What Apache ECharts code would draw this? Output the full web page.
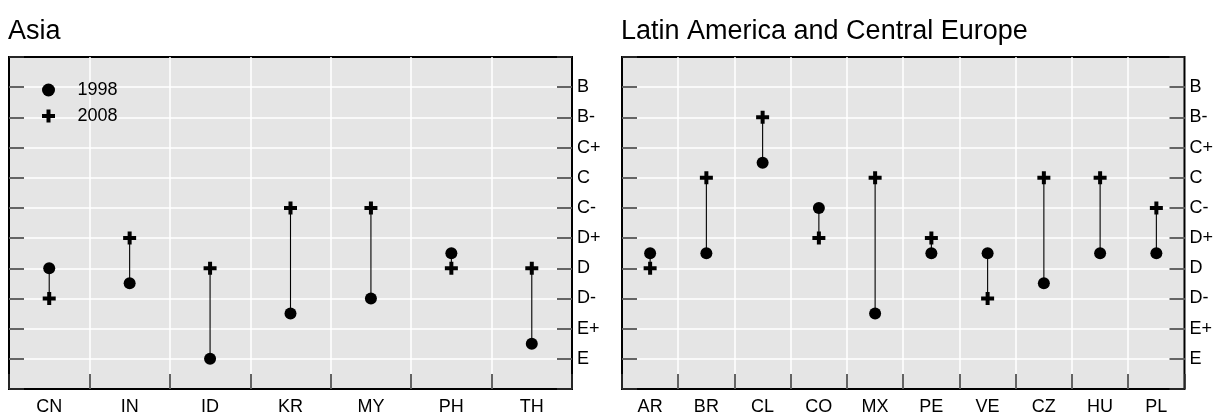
<!DOCTYPE html>
<html>
<head>
<meta charset="utf-8">
<script src="https://cdn.jsdelivr.net/npm/echarts@6/dist/echarts.min.js"></script>
<style>html,body{margin:0;padding:0;background:#fff}#c{width:1216px;height:416px}</style>
</head>
<body>
<div id="c"></div>
<script>
const gradeLabels = ['E','E+','D-','D','D+','C-','C','C+','B-','B'];
const asiaCategories = ['CN','IN','ID','KR','MY','PH','TH'];
const asia1998 = [3, 2.5, 0, 1.5, 2, 3.5, 0.5];
const asia2008 = [2, 4, 3, 5, 5, 3, 3];
const latamCategories = ['AR','BR','CL','CO','MX','PE','VE','CZ','HU','PL'];
const latam1998 = [3.5, 3.5, 6.5, 5, 1.5, 3.5, 3.5, 2.5, 3.5, 3.5];
const latam2008 = [3, 6, 8, 4, 6, 4, 2, 6, 6, 5];
const panelTitles = ['Asia', 'Latin America and Central Europe'];
const seriesNames = ['1998', '2008'];

const FONT = 'Liberation Sans, Arial, Helvetica, sans-serif';
const plusPath = 'path://M4.5,0H8.5V4.5H13V8.5H8.5V13H4.5V8.5H0V4.5H4.5Z';

const chart = echarts.init(document.getElementById('c'), null, {renderer: 'canvas'});

const panels = [
  {cats: asiaCategories, a: asia1998, b: asia2008, left: 9},
  {cats: latamCategories, a: latam1998, b: latam2008, left: 622}
];

const grids = [], xAxes = [], yAxes = [], series = [];
panels.forEach((p, gi) => {
  grids.push({left: p.left, top: 57, width: 563, height: 333, show: true,
    backgroundColor: '#e5e5e5', borderColor: '#000', borderWidth: 2, containLabel: false});
  xAxes.push({gridIndex: gi, type: 'category', data: p.cats, boundaryGap: true, position: 'bottom',
    axisLine: {show: false, onZero: false},
    axisTick: {show: true, inside: true, length: 15, lineStyle: {color: '#333', width: 1.5}},
    axisLabel: {fontSize: 18, color: '#000', fontFamily: FONT, margin: 9},
    splitLine: {show: true, showMinLine: false, showMaxLine: false, lineStyle: {color: '#fff', width: 1.5}}
  });
  yAxes.push({gridIndex: gi, type: 'value', position: 'left', min: -1, max: 10, interval: 1,
    axisLine: {show: false, onZero: false},
    axisTick: {show: true, inside: true, length: 15, lineStyle: {color: '#333', width: 1.5}},
    axisLabel: {show: false},
    splitLine: {show: true, showMinLine: false, showMaxLine: false, lineStyle: {color: '#fff', width: 1.5}}
  });
  yAxes.push({gridIndex: gi, type: 'value', position: 'right', min: -1, max: 10, interval: 1,
    axisLine: {show: false, onZero: false},
    axisTick: {show: true, inside: true, length: 15, lineStyle: {color: '#333', width: 1.5}},
    axisLabel: {show: true, fontSize: 18, color: '#000', fontFamily: FONT, margin: 5,
      formatter: v => (gradeLabels[v] !== undefined ? gradeLabels[v] : '')},
    splitLine: {show: false}
  });
  const yi = gi * 2;
  series.push({
    type: 'custom', xAxisIndex: gi, yAxisIndex: yi, z: 2, silent: true,
    data: p.cats.map((c, i) => [i, p.a[i], p.b[i]]),
    encode: {x: 0, y: [1, 2]},
    renderItem: (params, api) => {
      const p1 = api.coord([api.value(0), api.value(1)]);
      const p2 = api.coord([api.value(0), api.value(2)]);
      return {type: 'line', shape: {x1: p1[0], y1: p1[1], x2: p2[0], y2: p2[1]},
        style: {stroke: '#000', lineWidth: 1.1}};
    }
  });
  series.push({name: seriesNames[0], type: 'scatter', xAxisIndex: gi, yAxisIndex: yi, z: 3,
    symbol: 'circle', symbolSize: 12, itemStyle: {color: '#000', opacity: 1}, data: p.a});
  series.push({name: seriesNames[1], type: 'scatter', xAxisIndex: gi, yAxisIndex: yi, z: 3,
    symbol: plusPath, symbolSize: 13, itemStyle: {color: '#000', opacity: 1}, data: p.b});
});

chart.setOption({
  animation: false,
  backgroundColor: '#fff',
  textStyle: {fontFamily: FONT},
  title: panelTitles.map((t, i) => ({text: t, left: panels[i].left - 6, top: 13,
    textStyle: {fontSize: 27, fontWeight: 'normal', color: '#000', fontFamily: FONT}})),
  legend: {
    orient: 'vertical', left: 37, top: 76, itemWidth: 48, itemHeight: 13, itemGap: 8,
    textStyle: {fontSize: 18, color: '#000', fontFamily: FONT, lineHeight: 13},
    itemStyle: {opacity: 1},
    data: [{name: seriesNames[0], icon: 'circle'}, {name: seriesNames[1], icon: plusPath}],
    selectedMode: false
  },
  grid: grids,
  xAxis: xAxes,
  yAxis: yAxes,
  series: series
});
</script>
</body>
</html>
